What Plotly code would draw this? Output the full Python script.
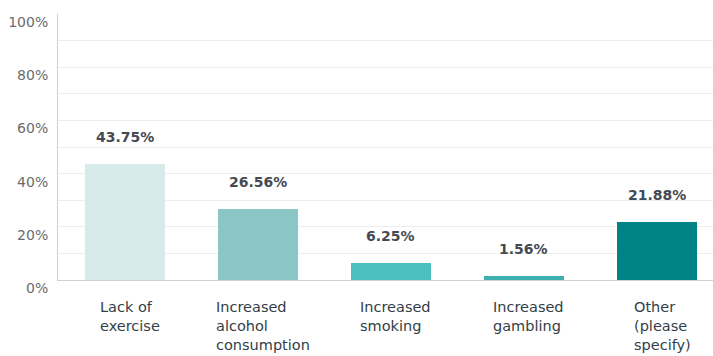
import plotly.graph_objects as go

# Survey answers and their share of respondents (%)
categories = ["Lack of exercise", "Increased alcohol consumption", "Increased smoking",
              "Increased gambling", "Other (please specify)"]
category_lines = ["Lack of<br>exercise", "Increased<br>alcohol<br>consumption",
                  "Increased<br>smoking", "Increased<br>gambling", "Other<br>(please<br>specify)"]
values = [43.75, 26.56, 6.25, 1.56, 21.88]
bar_colors = ["#D7EBEA", "#8AC6C6", "#4BBEBE", "#3CAFAF", "#008385"]
y_ticks = [0, 20, 40, 60, 80, 100]
y_tick_labels = [f"{v}%" for v in y_ticks]

fig = go.Figure()
fig.add_trace(go.Bar(
    x=list(range(len(categories))),
    y=values,
    width=0.6,
    marker=dict(color=bar_colors, line=dict(width=0)),
    hovertext=categories,
    hoverinfo="text+y",
))

# value labels above each bar
for i, v in enumerate(values):
    fig.add_annotation(
        x=i, y=v, xref="x", yref="y",
        text=f"<b>{v:.2f}%</b>",
        showarrow=False, yanchor="middle", yshift=27,
        font=dict(family="DejaVu Sans", size=14, color="#444A52"),
    )

# category names below the axis, left aligned within a centred block
for i, t in enumerate(category_lines):
    fig.add_annotation(
        x=i, y=0, xref="x", yref="y",
        text=t, showarrow=False,
        xanchor="center", yanchor="top", align="left",
        xshift=5, yshift=-17,
        font=dict(family="DejaVu Sans", size=14.5, color="#333E48"),
    )

fig.update_layout(
    width=713, height=356,
    margin=dict(l=58, r=0, t=14, b=76),
    plot_bgcolor="white", paper_bgcolor="white",
    showlegend=False,
    bargap=0,
)
fig.update_xaxes(
    range=[-0.5, 4.42],
    showticklabels=False, showgrid=False, zeroline=False,
    showline=True, linecolor="#D0D0D0", linewidth=1,
)
fig.update_yaxes(
    range=[0, 100],
    tickvals=y_ticks, ticktext=y_tick_labels,
    showgrid=True, gridcolor="#EDEDED", gridwidth=1,
    minor=dict(dtick=10, showgrid=True, gridcolor="#EDEDED", gridwidth=1),
    zeroline=False,
    showline=True, linecolor="#D0D0D0", linewidth=1,
    ticks="", ticklabelshift=8, ticklabelstandoff=6,
    tickfont=dict(family="DejaVu Sans", size=14, color="#6B6B6B"),
)

fig.write_html("out.html")
